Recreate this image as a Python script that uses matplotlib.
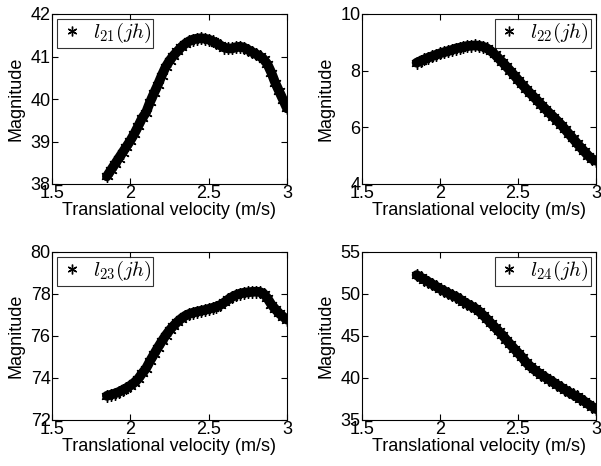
import numpy as np
import matplotlib
matplotlib.use("Agg")
import matplotlib.pyplot as plt

plt.rcParams["font.family"] = ["Liberation Sans", "DejaVu Sans"]
plt.rcParams["mathtext.fontset"] = "cm"

# translational velocity samples (m/s)
velocity = [1.850, 1.875, 1.900, 1.925, 1.950, 1.975, 2.000, 2.025, 2.050, 2.075,
            2.100, 2.125, 2.150, 2.175, 2.200, 2.225, 2.250, 2.275, 2.300, 2.325,
            2.350, 2.375, 2.400, 2.425, 2.450, 2.475, 2.500, 2.525, 2.550, 2.575,
            2.600, 2.625, 2.650, 2.675, 2.700, 2.725, 2.750, 2.775, 2.800, 2.825,
            2.850, 2.875, 2.900, 2.925, 2.950, 2.975, 3.000]

l21 = [38.18, 38.32, 38.46, 38.60, 38.74, 38.88, 39.02, 39.18, 39.36, 39.55,
       39.68, 39.92, 40.13, 40.33, 40.55, 40.75, 40.90, 41.02, 41.12, 41.22,
       41.30, 41.36, 41.40, 41.42, 41.43, 41.42, 41.40, 41.36, 41.31, 41.26,
       41.21, 41.19, 41.19, 41.22, 41.23, 41.21, 41.16, 41.11, 41.06, 41.01,
       40.94, 40.82, 40.62, 40.38, 40.18, 39.98, 39.78]

l22 = [8.28, 8.34, 8.40, 8.46, 8.51, 8.56, 8.61, 8.65, 8.69, 8.73,
       8.78, 8.81, 8.84, 8.87, 8.88, 8.89, 8.88, 8.85, 8.79, 8.70,
       8.58, 8.44, 8.30, 8.15, 8.00, 7.84, 7.68, 7.52, 7.37, 7.22,
       7.08, 6.94, 6.79, 6.65, 6.51, 6.38, 6.24, 6.10, 5.94, 5.78,
       5.62, 5.46, 5.30, 5.15, 5.00, 4.88, 4.82]

l23 = [73.15, 73.20, 73.26, 73.33, 73.42, 73.52, 73.64, 73.78, 73.96, 74.22,
       74.45, 74.80, 75.12, 75.44, 75.74, 76.02, 76.27, 76.48, 76.67, 76.83,
       76.96, 77.05, 77.11, 77.16, 77.20, 77.24, 77.29, 77.34, 77.40, 77.48,
       77.60, 77.74, 77.86, 77.95, 78.02, 78.06, 78.08, 78.10, 78.11, 78.10,
       78.02, 77.80, 77.50, 77.28, 77.08, 76.92, 76.78]

l24 = [52.25, 52.00, 51.72, 51.45, 51.17, 50.90, 50.62, 50.38, 50.12, 49.88,
       49.70, 49.40, 49.10, 48.82, 48.55, 48.30, 47.95, 47.50, 47.05, 46.55,
       46.08, 45.60, 45.10, 44.55, 44.02, 43.50, 43.00, 42.50, 41.90, 41.45,
       41.05, 40.70, 40.38, 40.08, 39.80, 39.50, 39.20, 38.90, 38.62, 38.33,
       38.05, 37.80, 37.54, 37.22, 36.90, 36.60, 36.30]

series = [l21, l22, l23, l24]
labels = [r"$l_{21}(jh)\;$", r"$l_{22}(jh)\;$", r"$l_{23}(jh)\;$", r"$l_{24}(jh)\;$"]
ylims = [(38, 42), (4, 10), (72, 80), (35, 55)]
yticks = [[38, 39, 40, 41, 42], [4, 6, 8, 10], [72, 74, 76, 78, 80], [35, 40, 45, 50, 55]]
legend_loc = ["upper left", "upper right", "upper left", "upper right"]
xticks = [1.5, 2, 2.5, 3]

W, H = 601, 466
fig = plt.figure(figsize=(W / 100, H / 100), dpi=100)

# axes boxes in pixels: left, top, right, bottom
boxes = [(52, 14, 287, 184), (362, 14, 596, 184),
         (52, 252, 287, 420), (362, 252, 596, 420)]

asterisk = (6, 2, 0)

for i, (l, t, r, b) in enumerate(boxes):
    ax = fig.add_axes([l / W, 1 - b / H, (r - l) / W, (b - t) / H])
    ax.plot(velocity, series[i], color="black", lw=7, solid_capstyle="round", zorder=2)
    ax.plot(velocity, series[i], ls="none", marker=asterisk, ms=9, mew=1.0,
            color="black", zorder=3)
    # legend handle: single asterisk marker
    ax.plot([], [], ls="none", marker=asterisk, ms=7, mew=1.0, color="black",
            label=labels[i])
    ax.set_xlim(1.5, 3)
    ax.set_ylim(*ylims[i])
    ax.set_xticks(xticks)
    ax.set_xticklabels(["1.5", "2", "2.5", "3"])
    ax.set_yticks(yticks[i])
    ax.tick_params(direction="in", length=4, width=0.8, top=True, right=True,
                   labelsize=13, pad=1)
    ax.set_xlabel("Translational velocity (m/s)", fontsize=13, labelpad=0)
    ax.set_ylabel("Magnitude", fontsize=13, labelpad=4)
    for s in ax.spines.values():
        s.set_linewidth(0.8)
    leg = ax.legend(loc=legend_loc[i], fontsize=15, frameon=True, fancybox=False,
                    handlelength=1.2, handletextpad=0.4, borderpad=0.1,
                    borderaxespad=0.25)
    leg.get_frame().set_edgecolor("black")
    leg.get_frame().set_linewidth(0.8)

fig.savefig("out.png", dpi=100)
